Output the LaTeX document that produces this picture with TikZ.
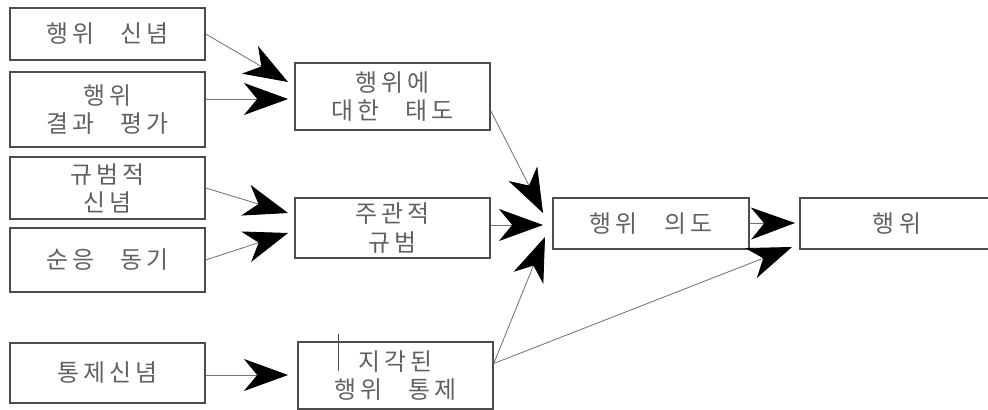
\documentclass[tikz,border=0pt]{standalone}
\usepackage{fontspec}
\newfontfamily\kr[LetterSpace=18]{Noto Sans CJK KR}
\usetikzlibrary{arrows.meta,calc}
\def\wsp{\hspace{1.1em}}

\begin{document}
\begin{tikzpicture}[x=0.025cm,y=-0.025cm,
  box/.style={draw=black!70,line width=1pt,inner sep=0pt,align=center,text=black!62,
    minimum width=4.875cm,font=\kr\fontsize{17}{20}\selectfont},
  link/.style={draw=black!55,line width=0.6pt,
    -{Stealth[length=1.1cm,width=0.8cm,inset=0.33cm,color=black]}}]
  %%%%% START %%%%%
  \useasboundingbox (0,0) rectangle (988,409);

  % left column
  \node[box,minimum height=1.3cm] (belief) at (107.5,34) {행위\wsp 신념};
  \node[box,minimum height=1.875cm] (outcome) at (107.5,109.5) {행위\\결과\wsp 평가};
  \node[box,minimum height=1.55cm] (normbelief) at (107.5,188) {규범적\\신념};
  \node[box,minimum height=1.6cm] (comply) at (107.5,260) {순응\wsp 동기};
  \node[box,minimum height=1.5cm] (ctrlbelief) at (107.5,373) {통제신념};

  % middle column
  \node[box,minimum height=1.675cm] (attitude) at (392.5,96.5) {행위에\\대한\wsp 태도};
  \node[box,minimum height=1.5cm] (subnorm) at (392.5,228) {주관적\\규범};
  \node[box,minimum height=1.675cm] (pbc) at (395.5,375.5) {지각된\\행위\wsp 통제};

  % right
  \node[box,minimum width=4.9cm,minimum height=1.275cm] (intent) at (651,223.5) {행위\wsp 의도};
  \node[box,minimum width=4.85cm,minimum height=1.275cm] (behave) at (897,223.5) {행위};

  % arrow tips
  \coordinate (tipA) at (288,82);
  \coordinate (tipB) at (288,99);
  \coordinate (tipC) at (288,213);
  \coordinate (tipD) at (288,233);
  \coordinate (tipE) at (288,375);
  \coordinate (tipF) at (543,213);
  \coordinate (tipG) at (543,225);
  \coordinate (tipH) at (545,237);
  \coordinate (tipI) at (792,247);
  \coordinate (tipJ) at (795,223);

  \draw[link] (belief.east) -- (tipA);
  \draw[link] (outcome.east |- tipB) -- (tipB);
  \draw[link] (normbelief.east) -- (tipC);
  \draw[link] (comply.east) -- (tipD);
  \draw[link] (ctrlbelief.east |- tipE) -- (tipE);
  \draw[link] ($(attitude.south east)+(0,-20)$) -- (tipF);
  \draw[link] (subnorm.east |- tipG) -- (tipG);
  \draw[link] ($(pbc.east)+(0,-12)$) -- (tipH);
  \draw[link] ($(pbc.east)+(0,-12)$) -- (tipI);
  \draw[link] (intent.east) -- (tipJ);

  \draw[black!70,line width=0.6pt] ($(pbc.north west)+(41,-7)$) -- ++(0,37);
  %%%%% END %%%%%
\end{tikzpicture}
\end{document}
